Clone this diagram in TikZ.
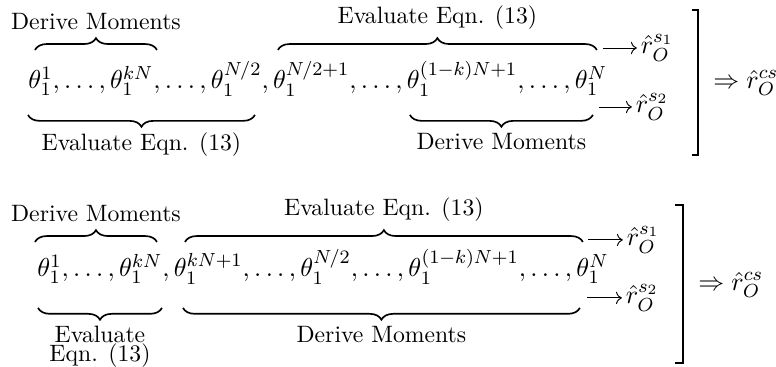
\documentclass[tikz,border=0pt]{standalone}
\usepackage{amsmath, amssymb}
\usetikzlibrary{arrows.meta, decorations.pathreplacing, calc}

\begin{document}
\begin{tikzpicture}[>={Computer Modern Rightarrow},
  curly/.style={decorate, decoration={brace, amplitude=5pt}, line width=0.7pt},
  uptext/.style={midway, above=4.8pt},
  downtext/.style={midway, below=4pt},
  eqn/.style={font=\fontsize{10.95}{13.6}\selectfont}]
  \useasboundingbox (0,0) rectangle (11.51,-5.44);

  % first split
  \node[eqn, anchor=base west, inner sep=0pt] (row1) at (0.415,-1.320)
    {$\theta_1^1,\ldots,\theta_1^{kN},\ldots,\theta_1^{N/2},\theta_1^{N/2+1},\ldots,\theta_1^{(1-k)N+1},\ldots,\theta_1^N$};
  \draw[curly] (0.519,-0.741) -- (2.328,-0.741) node[uptext]{Derive Moments};
  \draw[curly] (4.122,-0.741) -- (8.853,-0.741) node[uptext]{Evaluate Eqn. (13)};
  \draw[curly] (3.781,-1.705) -- (0.415,-1.705) node[downtext]{Evaluate Eqn. (13)};
  \draw[curly] (8.794,-1.705) -- (6.080,-1.705) node[downtext]{Derive Moments};
  \coordinate (p1) at (8.942,-0.712);
  \coordinate (q1) at (8.883,-1.587);
  \node[eqn, anchor=west, inner sep=1.5pt] (rs1) at (9.446,-0.712) {$\hat{r}_O^{s_1}$};
  \node[eqn, anchor=west, inner sep=1.5pt] (rs2) at (9.372,-1.587) {$\hat{r}_O^{s_2}$};
  \draw[->] (p1) -- (rs1.west);
  \draw[->] (q1) -- (rs2.west);
  \draw[semithick] (10.262,-0.148) -- (10.351,-0.148) -- (10.351,-2.298) -- (10.262,-2.298);
  \node[eqn, anchor=west, inner sep=0pt] (rcs1) at (10.573,-1.231) {$\Rightarrow\hat{r}_O^{cs}$};

  % second split
  \node[eqn, anchor=base west, inner sep=0pt] (row2) at (0.549,-4.108)
    {$\theta_1^1,\ldots,\theta_1^{kN},\theta_1^{kN+1},\ldots,\theta_1^{N/2},\ldots,\theta_1^{(1-k)N+1},\ldots,\theta_1^N$};
  \draw[curly] (0.519,-3.589) -- (2.328,-3.589) node[uptext]{Derive Moments};
  \draw[curly] (2.743,-3.589) -- (8.645,-3.589) node[uptext]{Evaluate Eqn. (13)};
  \draw[curly] (2.402,-4.567) -- (0.564,-4.567) node[downtext, align=center]{Evaluate\\[-4pt]Eqn. (13)};
  \draw[curly] (8.601,-4.567) -- (2.714,-4.567) node[downtext]{Derive Moments};
  \coordinate (p2) at (8.719,-3.559);
  \coordinate (q2) at (8.705,-4.419);
  \node[eqn, anchor=west, inner sep=1.5pt] (rt1) at (9.238,-3.559) {$\hat{r}_O^{s_1}$};
  \node[eqn, anchor=west, inner sep=1.5pt] (rt2) at (9.224,-4.419) {$\hat{r}_O^{s_2}$};
  \draw[->] (p2) -- (rt1.west);
  \draw[->] (q2) -- (rt2.west);
  \draw[semithick] (10.010,-3.040) -- (10.128,-3.040) -- (10.128,-5.383) -- (10.010,-5.383);
  \node[eqn, anchor=west, inner sep=0pt] (rcs2) at (10.351,-4.226) {$\Rightarrow\hat{r}_O^{cs}$};
\end{tikzpicture}
\end{document}
